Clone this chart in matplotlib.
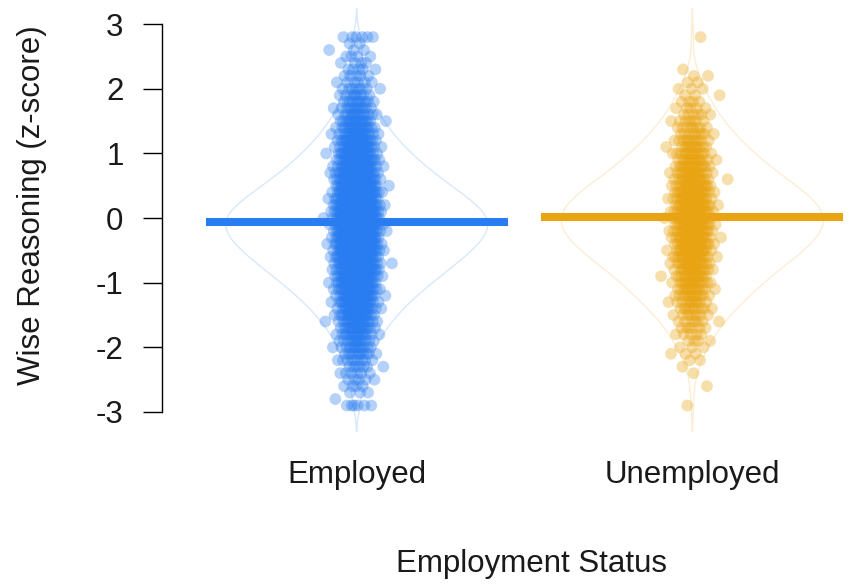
import numpy as np
import matplotlib
matplotlib.use("Agg")
import matplotlib.pyplot as plt
import matplotlib.transforms as mtrans
from statistics import NormalDist

plt.rcParams['font.family'] = ['Liberation Sans', 'DejaVu Sans']
plt.rcParams['axes.unicode_minus'] = False

# ---- data ----
categories = ["Employed", "Unemployed"]
values = [-2.9, -2.8, -2.7, -2.6, -2.5, -2.4, -2.3, -2.2, -2.1, -2.0,
          -1.9, -1.8, -1.7, -1.6, -1.5, -1.4, -1.3, -1.2, -1.1, -1.0,
          -0.9, -0.8, -0.7, -0.6, -0.5, -0.4, -0.3, -0.2, -0.1, 0.0,
          0.1, 0.2, 0.3, 0.4, 0.5, 0.6, 0.7, 0.8, 0.9, 1.0,
          1.1, 1.2, 1.3, 1.4, 1.5, 1.6, 1.7, 1.8, 1.9, 2.0,
          2.1, 2.2, 2.3, 2.4, 2.5, 2.6, 2.7, 2.8]
employed_counts = [6, 1, 3, 4, 5, 6, 7, 9, 11, 13,
                   14, 17, 20, 23, 27, 31, 35, 40, 45, 50,
                   56, 61, 67, 72, 77, 82, 86, 88, 90, 90,
                   86, 81, 75, 69, 63, 57, 51, 46, 41, 36,
                   32, 28, 24, 21, 18, 15, 13, 11, 9, 8,
                   6, 5, 5, 4, 4, 3, 2, 6]
unemployed_counts = [1, 0, 0, 1, 0, 1, 1, 2, 3, 3,
                     4, 5, 6, 7, 8, 10, 11, 13, 14, 16,
                     17, 19, 21, 23, 25, 27, 28, 29, 30, 30,
                     30, 29, 27, 25, 23, 21, 19, 17, 15, 14,
                     12, 11, 9, 8, 7, 6, 5, 4, 3, 3,
                     2, 2, 1, 0, 0, 0, 0, 1]
group_means = [-0.06, 0.01]
yticks = [-3, -2, -1, 0, 1, 2, 3]

colors = ["#2A7DF0", "#E9A413"]

W, H = 863, 586
fig = plt.figure(figsize=(W / 100, H / 100), dpi=100)
ax = fig.add_axes([162 / W, 1 - 432 / H, 725 / W, 424 / H])
ax.set_xlim(0.42, 2.58)
ax.set_ylim(-3.31, 3.25)

nd = NormalDist()
phi = (np.sqrt(5) - 1) / 2
for i, (counts, col, mean) in enumerate(zip([employed_counts, unemployed_counts], colors, group_means)):
    xc = i + 1
    y = np.repeat(np.array(values), counts)
    n = len(y)
    # violin (gaussian kde, R nrd0 bandwidth)
    sd = y.std(ddof=1)
    q75, q25 = np.percentile(y, [75, 25])
    bw = 0.9 * min(sd, (q75 - q25) / 1.34) * n ** -0.2
    grid = np.linspace(y.min() - 3 * bw, y.max() + 3 * bw, 600)
    dens = np.exp(-0.5 * ((grid[:, None] - y[None, :]) / bw) ** 2).sum(axis=1)
    hw = dens / dens.max() * 0.39
    vx = np.concatenate([xc - hw, (xc + hw)[::-1]])
    vy = np.concatenate([grid, grid[::-1]])
    ax.fill(vx, vy, facecolor="none", edgecolor=col, alpha=0.18, lw=1.0, zorder=1)
    # jittered points (deterministic spread)
    u = ((np.arange(n) + 0.5) * phi) % 1.0
    jit = np.array([nd.inv_cdf(min(max(v, 1e-4), 1 - 1e-4)) for v in u]) * 0.03
    ax.scatter(xc + jit, y, s=72, color=col, alpha=0.35, edgecolors="none", zorder=2)
    # mean line
    ax.plot([xc - 0.45, xc + 0.45], [mean, mean], color=col, lw=5.8,
            solid_capstyle="butt", zorder=3)

for s in ["top", "right", "bottom"]:
    ax.spines[s].set_visible(False)
ax.spines["left"].set_bounds(-3, 3)
ax.spines["left"].set_linewidth(1.0)
ax.set_yticks(yticks)
ax.set_yticklabels([str(t) for t in yticks])
ax.tick_params(axis="y", length=13.7, width=1.0, labelsize=22.5, pad=14,
               labelcolor="#1a1a1a")
ax.set_xticks([])

tr = mtrans.blended_transform_factory(ax.transData, fig.transFigure)
for i, c in enumerate(categories):
    ax.text(i + 1, 1 - 483 / H, c, transform=tr, ha="center", va="baseline",
            fontsize=22.5, color="#1a1a1a")
fig.text(531 / W, 1 - 572 / H, "Employment Status", ha="center", va="baseline",
         fontsize=22.5, color="#1a1a1a")
fig.text(32 / W, 1 - 205.5 / H, "Wise Reasoning (z-score)", rotation=90,
         ha="center", va="center", fontsize=22.5, color="#1a1a1a")

fig.savefig("out.png", dpi=100)
